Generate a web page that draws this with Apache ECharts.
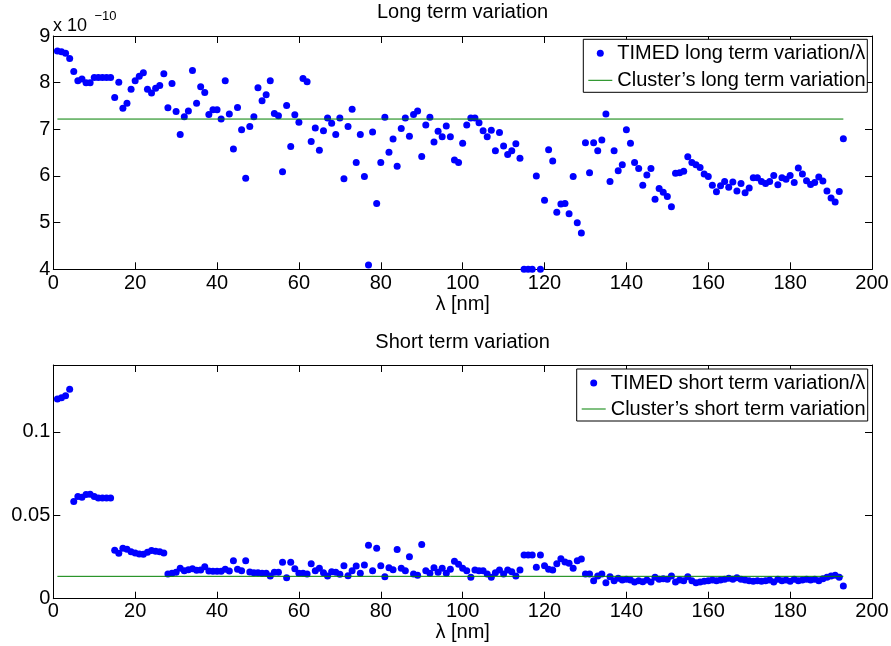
<!DOCTYPE html>
<html>
<head>
<meta charset="utf-8">
<script src="https://cdn.jsdelivr.net/npm/echarts@6/dist/echarts.min.js"></script>
<style>
html, body { margin: 0; padding: 0; background: #fff; }
#chart { width: 891px; height: 646px; }
</style>
</head>
<body>
<div id="chart"></div>
<script>
// wavelength bins: lambda = lambdaStart + i * lambdaStep (nm)
var lambdaStart = 1;
var lambdaStep = 1;

// TIMED long term variation / lambda, in units of 1e-10
var longTerm = [
  8.68, 8.66, 8.63, 8.52, 8.24, 8.04, 8.08, 8.00, 8.00, 8.11,
  8.11, 8.11, 8.11, 8.11, 7.68, 8.01, 7.45, 7.56, 7.86, 8.04,
  8.14, 8.21, 7.86, 7.78, 7.88, 7.94, 8.19, 7.46, 7.98, 7.38,
  6.89, 7.27, 7.39, 8.26, 7.56, 7.91, 7.79, 7.32, 7.42, 7.42,
  7.22, 8.04, 7.33, 6.58, 7.47, 6.99, 5.95, 7.06, 7.27, 7.89,
  7.61, 7.74, 8.04, 7.34, 7.29, 6.09, 7.51, 6.63, 7.31, 7.15,
  8.09, 8.02, 6.74, 7.03, 6.55, 6.97, 7.24, 7.13, 6.89, 7.24,
  5.94, 7.06, 7.43, 6.29, 6.89, 5.99, 4.09, 6.94, 5.41, 6.29,
  7.26, 6.51, 6.79, 6.21, 7.02, 7.24, 6.85, 7.32, 7.39, 6.42,
  7.09, 7.26, 6.73, 6.96, 6.84, 7.07, 6.84, 6.34, 6.29, 6.70,
  7.09, 7.24, 7.24, 7.14, 6.97, 6.84, 6.98, 6.54, 6.93, 6.64,
  6.46, 6.54, 6.69, 6.38, 4.00, 4.00, 4.00, 6.00, 4.00, 5.48,
  6.56, 6.32, 5.22, 5.40, 5.41, 5.19, 5.99, 5.00, 4.78, 6.71,
  6.07, 6.71, 6.54, 6.77, 7.33, 5.88, 6.54, 6.11, 6.24, 6.99,
  6.70, 6.29, 6.16, 5.80, 6.02, 6.16, 5.50, 5.73, 5.65, 5.56,
  5.34, 6.06, 6.07, 6.10, 6.41, 6.29, 6.24, 6.18, 6.04, 5.99,
  5.80, 5.66, 5.79, 5.88, 5.76, 5.87, 5.68, 5.84, 5.64, 5.74,
  5.96, 5.96, 5.88, 5.84, 5.88, 6.01, 5.81, 5.96, 5.93, 6.01,
  5.86, 6.17, 6.04, 5.90, 5.82, 5.86, 5.98, 5.89, 5.68, 5.53,
  5.44, 5.67, 6.80
];

// TIMED short term variation / lambda
var shortTerm = [
  0.1196, 0.1204, 0.1216, 0.1254, 0.0582, 0.0612, 0.0608, 0.0624, 0.0626, 0.0612,
  0.0604, 0.0604, 0.0604, 0.0604, 0.0290, 0.0272, 0.0302, 0.0296, 0.0282, 0.0274,
  0.0268, 0.0266, 0.0278, 0.0288, 0.0284, 0.0282, 0.0274, 0.0148, 0.0152, 0.0158,
  0.0182, 0.0168, 0.0174, 0.0180, 0.0170, 0.0172, 0.0192, 0.0166, 0.0164, 0.0164,
  0.0164, 0.0176, 0.0166, 0.0228, 0.0176, 0.0168, 0.0228, 0.0160, 0.0156, 0.0156,
  0.0152, 0.0152, 0.0136, 0.0158, 0.0158, 0.0218, 0.0126, 0.0218, 0.0180, 0.0152,
  0.0152, 0.0148, 0.0210, 0.0168, 0.0182, 0.0156, 0.0136, 0.0162, 0.0158, 0.0146,
  0.0198, 0.0138, 0.0168, 0.0196, 0.0152, 0.0202, 0.0320, 0.0168, 0.0302, 0.0198,
  0.0132, 0.0186, 0.0174, 0.0294, 0.0182, 0.0168, 0.0252, 0.0148, 0.0140, 0.0324,
  0.0168, 0.0152, 0.0186, 0.0158, 0.0182, 0.0152, 0.0176, 0.0224, 0.0206, 0.0182,
  0.0168, 0.0128, 0.0172, 0.0168, 0.0168, 0.0148, 0.0128, 0.0156, 0.0172, 0.0148,
  0.0172, 0.0162, 0.0136, 0.0172, 0.0262, 0.0262, 0.0262, 0.0188, 0.0262, 0.0198,
  0.0176, 0.0172, 0.0210, 0.0240, 0.0220, 0.0212, 0.0182, 0.0228, 0.0238, 0.0148,
  0.0148, 0.0108, 0.0136, 0.0148, 0.0096, 0.0132, 0.0108, 0.0122, 0.0112, 0.0116,
  0.0112, 0.0100, 0.0108, 0.0102, 0.0112, 0.0100, 0.0128, 0.0116, 0.0120, 0.0116,
  0.0136, 0.0100, 0.0112, 0.0108, 0.0132, 0.0108, 0.0096, 0.0100, 0.0104, 0.0108,
  0.0112, 0.0108, 0.0112, 0.0116, 0.0122, 0.0116, 0.0126, 0.0116, 0.0112, 0.0108,
  0.0104, 0.0108, 0.0104, 0.0108, 0.0112, 0.0100, 0.0116, 0.0108, 0.0112, 0.0104,
  0.0116, 0.0108, 0.0112, 0.0116, 0.0112, 0.0116, 0.0108, 0.0120, 0.0128, 0.0136,
  0.0140, 0.0128, 0.0076
];

// Cluster reference levels (horizontal lines)
var clusterLong = 7.22;
var clusterShort = 0.0134;

var names = {
  longDots: 'TIMED long term variation/\u03bb',
  longLine: 'Cluster\u2019s long term variation',
  shortDots: 'TIMED short term variation/\u03bb',
  shortLine: 'Cluster\u2019s short term variation'
};

var FONT = '"Liberation Sans", Arial, Helvetica, sans-serif';
var LINE_ICON = 'path://M0,0H24V1H0Z';

function pairs(vals) {
  return vals.map(function (v, i) { return [lambdaStart + i * lambdaStep, v]; });
}
function level(v, n) {
  return [[lambdaStart, v], [lambdaStart + (n - 1) * lambdaStep, v]];
}

function xAx(grid, pos, labels, gap, margin) {
  return {
    type: 'value', gridIndex: grid, position: pos,
    min: 0, max: 200, interval: 20,
    name: labels ? '\u03bb [nm]' : '', nameLocation: 'middle', nameGap: gap,
    nameTextStyle: { fontSize: 20, color: '#000', fontFamily: FONT },
    axisLine: { onZero: false, lineStyle: { color: '#000', width: 1 } },
    axisTick: { inside: true, length: 7, lineStyle: { color: '#000' } },
    axisLabel: { show: labels, color: '#000', fontSize: 20, fontFamily: FONT, margin: margin },
    splitLine: { show: false }
  };
}
function yAx(grid, pos, labels, min, max, interval) {
  return {
    type: 'value', gridIndex: grid, position: pos,
    min: min, max: max, interval: interval,
    axisLine: { onZero: false, lineStyle: { color: '#000', width: 1 } },
    axisTick: { inside: true, length: 7, lineStyle: { color: '#000' } },
    axisLabel: { show: labels, color: '#000', fontSize: 20, fontFamily: FONT, margin: 3, showMaxLabel: max === 9 },
    splitLine: { show: false }
  };
}
function legendBox(left, top, textWidth, gap, dots, line) {
  return {
    orient: 'vertical', left: left, top: top,
    padding: [4, 0, 2, 5], itemGap: gap, itemWidth: 24, itemHeight: 7,
    borderColor: '#000', borderWidth: 1, borderRadius: 0, backgroundColor: '#fff',
    textStyle: { fontSize: 20, color: '#000', fontFamily: FONT, lineHeight: 20,
      width: textWidth, overflow: 'truncate', ellipsis: '' },
    data: [{ name: dots, icon: 'circle' }, { name: line, icon: LINE_ICON }]
  };
}

var myChart = echarts.init(document.getElementById('chart'));
var option = {
  backgroundColor: '#fff',
  animation: false,
  grid: [
    { left: 53.3, top: 36, width: 818.7, height: 233.3, outerBoundsMode: 'none' },
    { left: 53.3, top: 365, width: 818.7, height: 233.7, outerBoundsMode: 'none' }
  ],
  xAxis: [
    xAx(0, 'bottom', true, 22, 4),
    xAx(0, 'top', false, 0, 0),
    xAx(1, 'bottom', true, 20, 3),
    xAx(1, 'top', false, 0, 0)
  ],
  yAxis: [
    yAx(0, 'left', true, 4, 9, 1),
    yAx(0, 'right', false, 4, 9, 1),
    yAx(1, 'left', true, 0, 0.14, 0.05),
    yAx(1, 'right', false, 0, 0.14, 0.05)
  ],
  legend: [
    legendBox(583.3, 39.3, 250, 7, names.longDots, names.longLine),
    legendBox(576.7, 369, 257, 6, names.shortDots, names.shortLine)
  ],
  graphic: [
    { type: 'text', x: 462.6, y: 12, style: { text: 'Long term variation', fontSize: 20, fontFamily: FONT, fill: '#000', align: 'center', verticalAlign: 'middle', textAlign: 'center', textVerticalAlign: 'middle' } },
    { type: 'text', x: 462.6, y: 342, style: { text: 'Short term variation', fontSize: 20, fontFamily: FONT, fill: '#000', align: 'center', verticalAlign: 'middle', textAlign: 'center', textVerticalAlign: 'middle' } },
    { type: 'text', x: 53, y: 26.5, style: { text: 'x 10', fontSize: 18, fontFamily: FONT, fill: '#000', align: 'left', verticalAlign: 'middle', textAlign: 'left', textVerticalAlign: 'middle' } },
    { type: 'text', x: 94.5, y: 16, style: { text: '\u221210', fontSize: 13, fontFamily: FONT, fill: '#000', align: 'left', verticalAlign: 'middle', textAlign: 'left', textVerticalAlign: 'middle' } }
  ],
  series: [
    {
      name: names.longDots, type: 'scatter', xAxisIndex: 0, yAxisIndex: 0,
      symbol: 'circle', symbolSize: 7, clip: false,
      itemStyle: { color: '#0000ff', opacity: 1 },
      data: pairs(longTerm)
    },
    {
      name: names.longLine, type: 'line', xAxisIndex: 0, yAxisIndex: 0,
      symbol: 'none', lineStyle: { color: '#008000', width: 1 }, itemStyle: { color: '#008000' },
      data: level(clusterLong, longTerm.length)
    },
    {
      name: names.shortDots, type: 'scatter', xAxisIndex: 2, yAxisIndex: 2,
      symbol: 'circle', symbolSize: 7, clip: false,
      itemStyle: { color: '#0000ff', opacity: 1 },
      data: pairs(shortTerm)
    },
    {
      name: names.shortLine, type: 'line', xAxisIndex: 2, yAxisIndex: 2,
      symbol: 'none', lineStyle: { color: '#008000', width: 1 }, itemStyle: { color: '#008000' },
      data: level(clusterShort, shortTerm.length)
    }
  ]
};
myChart.setOption(option);
</script>
</body>
</html>
